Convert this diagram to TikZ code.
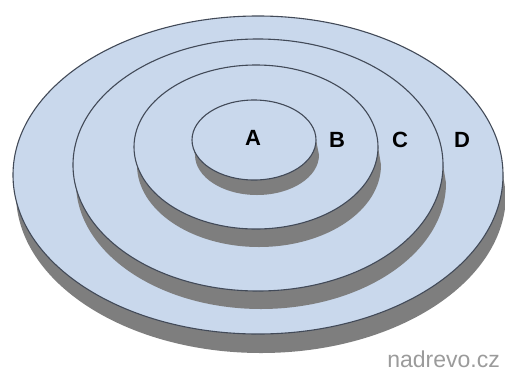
\documentclass[tikz,border=0pt]{standalone}
\usepackage{fontspec}
\setmainfont{Liberation Sans}
\usepackage{xcolor}
\usepackage{tikz}
\usetikzlibrary{positioning}

\definecolor{disktop}{RGB}{201,216,236}
\definecolor{diskside}{RGB}{126,126,126}
\definecolor{diskline}{RGB}{66,74,88}
\definecolor{markgray}{RGB}{155,155,155}

\tikzset{
    topface/.style={fill=disktop, draw=diskline, line width=1.1pt},
    sideface/.style={fill=diskside},
    setname/.style={font=\fontsize{22}{26}\selectfont\bfseries, text=black, inner sep=0pt}
}

\begin{document}
\begin{tikzpicture}[x=1pt, y=-1pt]
    \useasboundingbox (0,0) rectangle (505,383);
    \fill[white] (0,0) rectangle (505,383);

    % set D
    \fill[sideface] (13,175) -- ++(3,19) arc[start angle=180, end angle=0, x radius=245, y radius=159] -- (503,175) -- cycle;
    \draw[topface] (258,175) ellipse (245 and 159);

    % set C
    \fill[sideface] (73,165) -- ++(3,18) arc[start angle=180, end angle=0, x radius=185, y radius=126] -- (443,165) -- cycle;
    \draw[topface] (258,165) ellipse (185 and 126);

    % set B
    \fill[sideface] (134,147) -- ++(3,18) arc[start angle=180, end angle=0, x radius=122, y radius=82] -- (378,147) -- cycle;
    \draw[topface] (256,147) ellipse (122 and 82);

    % set A
    \fill[sideface] (192,140) -- ++(3,15) arc[start angle=180, end angle=0, x radius=62, y radius=40] -- (316,140) -- cycle;
    \draw[topface] (254,140) ellipse (62 and 40);

    \node (a) [setname] at (253,138) {A};
    \node (b) [setname] at (337,140) {B};
    \node (c) [setname] at (400,140) {C};
    \node (d) [setname] at (462,140) {D};

    \node (mark) [anchor=base east, inner sep=0pt, text=markgray,
        font=\fontsize{23}{27}\selectfont] at (500,367) {nadrevo.cz};
\end{tikzpicture}
\end{document}
